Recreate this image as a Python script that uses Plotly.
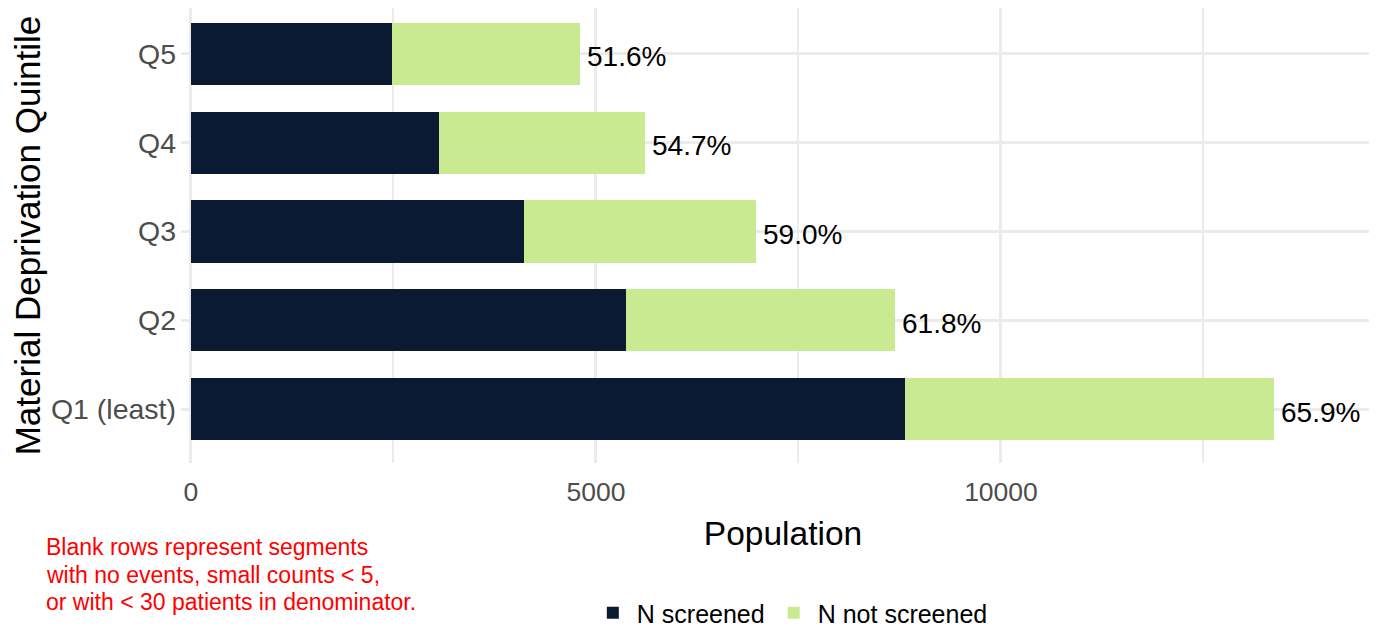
import plotly.graph_objects as go

categories = ["Q1 (least)", "Q2", "Q3", "Q4", "Q5"]
n_screened = [8811, 5371, 4115, 3066, 2478]
n_not_screened = [4559, 3320, 2860, 2539, 2324]
pct_labels = ["65.9%", "61.8%", "59.0%", "54.7%", "51.6%"]
caption_lines = ["Blank rows represent segments",
                 "with no events, small counts < 5,",
                 "or with < 30 patients in denominator."]

DARK = "#0B1A33"
LIGHT = "#C9EA91"
FONT = "Liberation Sans, Arial, sans-serif"

totals = [a + b for a, b in zip(n_screened, n_not_screened)]

fig = go.Figure()
fig.add_trace(go.Bar(y=categories, x=n_screened, orientation="h", name="N screened",
                     marker=dict(color=DARK, line=dict(width=0))))
fig.add_trace(go.Bar(y=categories, x=n_not_screened, orientation="h", name="N not screened",
                     marker=dict(color=LIGHT, line=dict(width=0))))

for cat, tot, lab in zip(categories, totals, pct_labels):
    fig.add_annotation(x=tot, y=cat, text=lab, xanchor="left", yanchor="middle",
                       xshift=5, yshift=-3, showarrow=False,
                       font=dict(family=FONT, size=28, color="black"))

for i, line in enumerate(caption_lines):
    fig.add_annotation(xref="paper", yref="paper", x=-0.1137, y=-0.1855 - 0.0602 * i,
                       xanchor="left", yanchor="middle", align="left", showarrow=False,
                       text=line, font=dict(family=FONT, size=23, color="red"))

fig.update_layout(
    width=1377, height=628,
    margin=dict(l=173, r=0, t=0, b=163),
    barmode="stack", bargap=0.3,
    plot_bgcolor="white", paper_bgcolor="white",
    font=dict(family=FONT, color="black"),
    showlegend=True,
    legend=dict(orientation="h", x=0.5065, xanchor="center", y=-0.330, yanchor="middle",
                font=dict(family=FONT, size=25, color="black"), traceorder="normal",
                itemwidth=38),
    xaxis=dict(range=[-123, 14741], tick0=0, dtick=5000, tickformat="d", showgrid=True,
               gridcolor="#EBEBEB", gridwidth=2.5, zeroline=False, showline=False,
               minor=dict(dtick=2500, tick0=0, showgrid=True, gridcolor="#EBEBEB", gridwidth=1.5),
               tickfont=dict(family=FONT, size=26.5, color="#4D4D4D"), ticklabelstandoff=10,
               title=dict(text="Population", font=dict(family=FONT, size=33.5, color="black"), standoff=16),
               automargin=False),
    yaxis=dict(range=[-0.605, 4.515], showgrid=True, gridcolor="#EBEBEB", gridwidth=2.5,
               zeroline=False, showline=False,
               tickfont=dict(family=FONT, size=28.5, color="#4D4D4D"), ticklabelstandoff=4,
               title=dict(text="Material Deprivation Quintile", font=dict(family=FONT, size=35, color="black"), standoff=8),
               automargin=False),
)

fig.write_html("out.html")
